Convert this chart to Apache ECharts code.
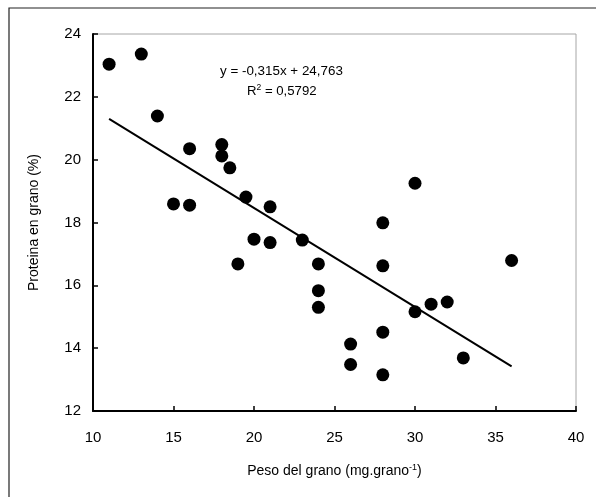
<!DOCTYPE html>
<html>
<head>
<meta charset="utf-8">
<script src="https://cdn.jsdelivr.net/npm/echarts@6/dist/echarts.min.js"></script>
<style>
html,body{margin:0;padding:0;background:#fff;}
#chart{width:596px;height:497px;}
</style>
</head>
<body>
<div id="chart"></div>
<script>
var pesoX = [11, 13, 14, 16, 18, 18, 18.5, 19.5, 21, 15, 16, 19, 20, 21, 23, 24, 24, 24, 26, 26, 28, 28, 28, 28, 30, 30, 31, 32, 33, 36];
var proteinaY = [23.04, 23.36, 21.39, 20.35, 20.48, 20.12, 19.74, 18.81, 18.50, 18.59, 18.55, 16.68, 17.47, 17.36, 17.44, 16.68, 15.83, 15.30, 14.13, 13.48, 17.99, 16.62, 14.51, 13.15, 19.25, 15.16, 15.40, 15.47, 13.69, 16.79];
var trendX = [11, 36];
var trendY = [21.30, 13.42];
var xTicks = [10, 15, 20, 25, 30, 35, 40];
var yTicks = [12, 14, 16, 18, 20, 22, 24];

var points = pesoX.map(function(x, i){ return [x, proteinaY[i]]; });
var trend = trendX.map(function(x, i){ return [x, trendY[i]]; });

var chart = echarts.init(document.getElementById('chart'), null, {renderer:'canvas'});
var font = '"Liberation Sans", Arial, sans-serif';
chart.setOption({
  animation: false,
  backgroundColor: '#fff',
  grid: {left: 93, right: 20, top: 34, bottom: 86, show: true, borderColor: '#a6a6a6', borderWidth: 1},
  xAxis: {
    type: 'value', min: xTicks[0], max: xTicks[xTicks.length-1], interval: 5,
    splitLine: {show: false},
    axisLine: {onZero: false, lineStyle: {color: '#000', width: 2}},
    axisTick: {inside: true, length: 5, lineStyle: {color: '#000', width: 1.5}},
    axisLabel: {color: '#000', fontSize: 15, fontFamily: font, margin: 19},
    name: '{n|Peso del grano (mg.grano}{s|-1}{n|)}',
    nameLocation: 'middle', nameGap: 52,
    nameTextStyle: {rich: {
      n: {fontSize: 14, fontFamily: font, color: '#000'},
      s: {fontSize: 9, fontFamily: font, color: '#000', verticalAlign: 'top', padding: [0,0,8,0]}
    }}
  },
  yAxis: {
    type: 'value', min: yTicks[0], max: yTicks[yTicks.length-1], interval: 2,
    splitLine: {show: false},
    axisLine: {onZero: false, lineStyle: {color: '#000', width: 2}},
    axisTick: {inside: true, length: 5, lineStyle: {color: '#000', width: 1.5}},
    axisLabel: {color: '#000', fontSize: 15, fontFamily: font, margin: 12},
    name: 'Proteina en grano (%)',
    nameLocation: 'middle', nameGap: 52,
    nameTextStyle: {fontSize: 14, fontFamily: font, color: '#000'}
  },
  series: [
    {
      type: 'line', data: trend, symbol: 'none',
      lineStyle: {color: '#000', width: 2}, z: 2
    },
    {
      type: 'scatter', data: points, symbol: 'circle', symbolSize: 13,
      itemStyle: {color: '#000', opacity: 1}, z: 3
    }
  ],
  graphic: [
    {type: 'rect', shape: {x: 9, y: 8, width: 600, height: 500}, style: {fill: 'none', stroke: '#222', lineWidth: 1.2}, silent: true},
    {type: 'text', left: 220, top: 65, style: {text: 'y = -0,315x + 24,763', font: '13.4px "Liberation Sans", Arial, sans-serif', fill: '#000'}},
    {type: 'text', left: 247, top: 83, style: {
      text: '{n|R}{s|2}{n| = 0,5792}',
      rich: {
        n: {fontSize: 13.2, fontFamily: font, fill: '#000'},
        s: {fontSize: 8.5, fontFamily: font, fill: '#000', verticalAlign: 'top', padding: [0,0,7,0]}
      }
    }}
  ]
});
</script>
</body>
</html>
